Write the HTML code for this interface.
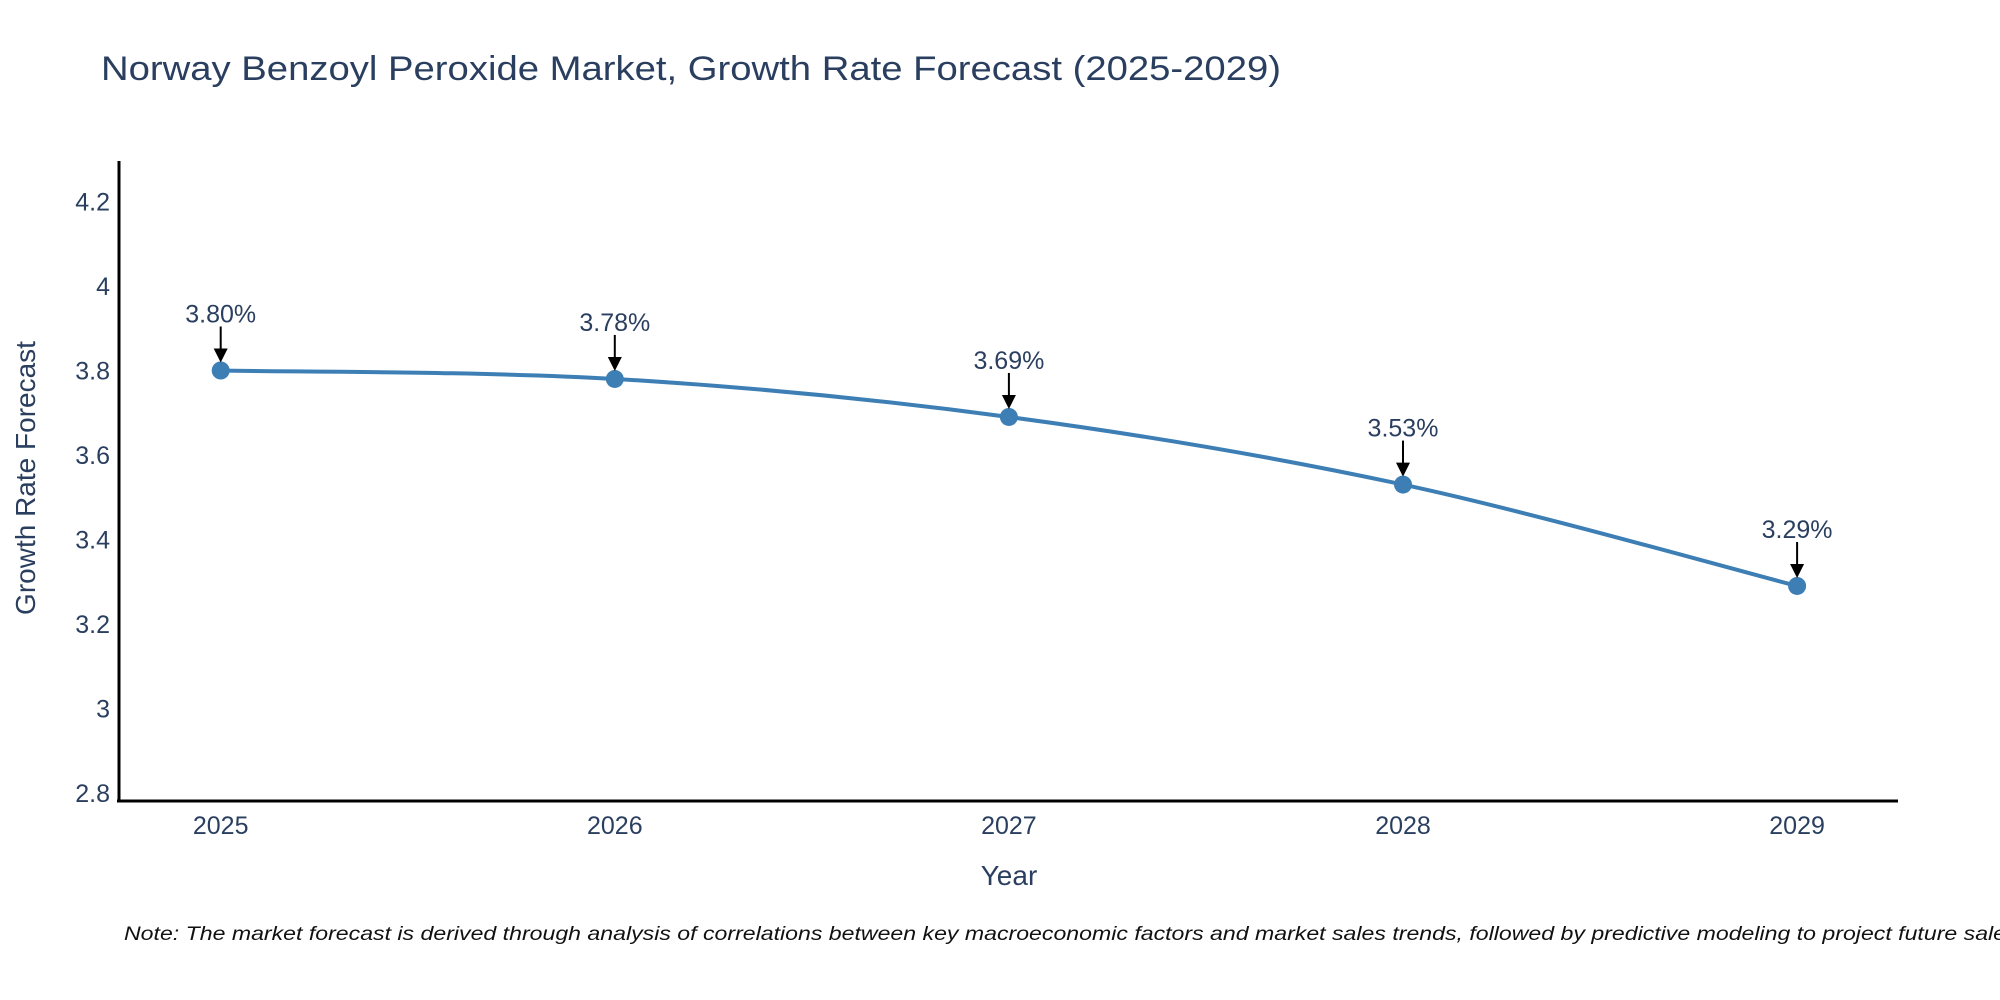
<!DOCTYPE html>
<html><head><meta charset="utf-8"><style>
html,body{margin:0;padding:0;background:#fff;}
svg{display:block;font-family:"Liberation Sans","DejaVu Sans",sans-serif;}
</style></head><body>
<svg id="chart" width="2000" height="1000" viewBox="0 0 2000 1000" xmlns="http://www.w3.org/2000/svg">
<text x="101" y="80" font-size="34" fill="#2a3f5f" textLength="1180" lengthAdjust="spacingAndGlyphs">Norway Benzoyl Peroxide Market, Growth Rate Forecast (2025-2029)</text>
<g id="yticks"></g>
<g id="xticks"></g>
<line x1="119" y1="161" x2="119" y2="802" stroke="#000" stroke-width="3"/>
<line x1="117" y1="801" x2="1898" y2="801" stroke="#000" stroke-width="3"/>
<text x="1009" y="885" font-size="28" fill="#2a3f5f" text-anchor="middle">Year</text>
<text x="0" y="0" font-size="28" fill="#2a3f5f" text-anchor="middle" transform="translate(35,478) rotate(-90)">Growth Rate Forecast</text>
<path id="line" fill="none" stroke="#3d7fb5" stroke-width="4"/>
<g id="marks"></g>
<g id="ann"></g>
<text x="124" y="940" font-size="19" font-style="italic" fill="#111" textLength="1900" lengthAdjust="spacingAndGlyphs">Note: The market forecast is derived through analysis of correlations between key macroeconomic factors and market sales trends, followed by predictive modeling to project future sales.</text>
</svg>
<script>
const categories = [2025, 2026, 2027, 2028, 2029];
const values = [3.80, 3.78, 3.69, 3.53, 3.29];
const labels = ["3.80%", "3.78%", "3.69%", "3.53%", "3.29%"];
const yTicks = [2.8, 3, 3.2, 3.4, 3.6, 3.8, 4, 4.2];
const yTickLabels = ["2.8", "3", "3.2", "3.4", "3.6", "3.8", "4", "4.2"];

const NS = "http://www.w3.org/2000/svg";
function xs(v){ return 220.7 + (v - 2025) * 394.1; }
function ys(v){ return 793 - (v - 2.8) * 422.5; }
function mk(tag, attrs){ const e = document.createElementNS(NS, tag); for (const k in attrs) e.setAttribute(k, attrs[k]); return e; }

const yg = document.getElementById('yticks');
yTicks.forEach((t, i) => {
  const el = mk('text', {x: 110, y: ys(t) + 9, 'font-size': 25, fill: '#2a3f5f', 'text-anchor': 'end'});
  
  
  el.textContent = yTickLabels[i];
  yg.appendChild(el);
});
const xg = document.getElementById('xticks');
categories.forEach(c => {
  const el = mk('text', {x: xs(c), y: 834, 'font-size': 25, fill: '#2a3f5f', 'text-anchor': 'middle'});
  
  
  el.textContent = String(c);
  xg.appendChild(el);
});

const pts = categories.map((c, i) => [xs(c), ys(values[i])]);
let d = `M${pts[0][0]},${pts[0][1]}`;
for (let i = 0; i < pts.length - 1; i++) {
  const p0 = pts[Math.max(0, i - 1)], p1 = pts[i], p2 = pts[i + 1], p3 = pts[Math.min(pts.length - 1, i + 2)];
  const t = 1 / 6;
  const c1 = [p1[0] + (p2[0] - p0[0]) * t, p1[1] + (p2[1] - p0[1]) * t];
  const c2 = [p2[0] - (p3[0] - p1[0]) * t, p2[1] - (p3[1] - p1[1]) * t];
  d += ` C${c1[0]},${c1[1]} ${c2[0]},${c2[1]} ${p2[0]},${p2[1]}`;
}
document.getElementById('line').setAttribute('d', d);

const mg = document.getElementById('marks');
const ag = document.getElementById('ann');
pts.forEach((p, i) => {
  const c = mk('circle', {cx: p[0], cy: p[1], r: 9, fill: '#3d7fb5'});
  
  
  mg.appendChild(c);
  const ln = mk('line', {x1: p[0], y1: p[1] - 44, x2: p[0], y2: p[1] - 20, stroke: '#000', 'stroke-width': 2});
  
  
  ag.appendChild(ln);
  const hd = mk('polygon', {points: `${p[0]-7},${p[1]-22} ${p[0]+7},${p[1]-22} ${p[0]},${p[1]-8}`, fill: '#000'});
  
  
  ag.appendChild(hd);
  const tx = mk('text', {x: p[0], y: p[1] - 48, 'font-size': 25, fill: '#2a3f5f', 'text-anchor': 'middle'});
  
  
  tx.textContent = labels[i];
  ag.appendChild(tx);
});
</script>
</body></html>
